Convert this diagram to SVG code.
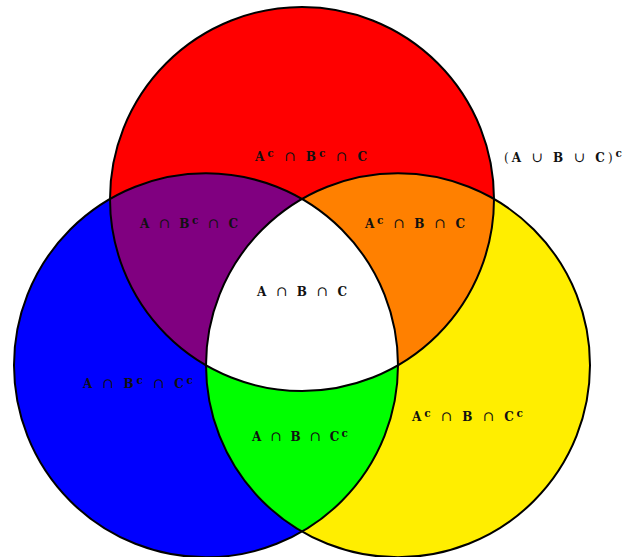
<svg xmlns="http://www.w3.org/2000/svg" width="634" height="557" viewBox="0 0 634 557">
<style>
.o{fill:none;stroke:#000;stroke-width:2}
.t{font-family:"DejaVu Serif","Liberation Serif",serif;font-weight:bold;font-size:12px;fill:#111}
.s{font-size:10.5px}
.u{font-size:14px;font-weight:normal}
.n{font-weight:normal}
</style>
<rect width="634" height="557" fill="#fff"/>
<g id="setC">
<circle cx="302" cy="199" r="192" fill="#ff0000"/>
</g>
<g id="setA">
<circle cx="206" cy="365.28" r="192" fill="#0000ff"/>
</g>
<g id="setB">
<circle cx="398" cy="365.28" r="192" fill="#ffee00"/>
</g>
<g id="AnotBC">
<path d="M110,199 A192,192 0 0 1 302,199 A192,192 0 0 0 206,365.28 A192,192 0 0 1 110,199 Z" fill="#800080"/>
</g>
<g id="notABC">
<path d="M302,199 A192,192 0 0 1 494,199 A192,192 0 0 1 398,365.28 A192,192 0 0 0 302,199 Z" fill="#ff8000"/>
</g>
<g id="ABnotC">
<path d="M206,365.28 A192,192 0 0 0 398,365.28 A192,192 0 0 1 302,531.56 A192,192 0 0 1 206,365.28 Z" fill="#00ff00"/>
</g>
<g id="ABC">
<path d="M302,199 A192,192 0 0 1 398,365.28 A192,192 0 0 1 206,365.28 A192,192 0 0 1 302,199 Z" fill="#ffffff"/>
</g>
<g id="outlines">
<circle class="o" cx="302" cy="199" r="192"/>
<circle class="o" cx="206" cy="365.28" r="192"/>
<circle class="o" cx="398" cy="365.28" r="192"/>
</g>
<g id="labels">
<text class="t" x="255" y="161" textLength="112" lengthAdjust="spacing">A<tspan class="s" dy="-4">c</tspan><tspan dy="4"> </tspan><tspan class="u">∩</tspan> B<tspan class="s" dy="-4">c</tspan><tspan dy="4"> </tspan><tspan class="u">∩</tspan> C</text>
<text class="t" x="504" y="162" textLength="118" lengthAdjust="spacing"><tspan class="n">(</tspan>A <tspan class="u">∪</tspan> B <tspan class="u">∪</tspan> C<tspan class="n">)</tspan><tspan class="s" dy="-5">c</tspan></text>
<text class="t" x="140" y="228" textLength="98" lengthAdjust="spacing">A <tspan class="u">∩</tspan> B<tspan class="s" dy="-4">c</tspan><tspan dy="4"> </tspan><tspan class="u">∩</tspan> C</text>
<text class="t" x="365" y="228" textLength="100" lengthAdjust="spacing">A<tspan class="s" dy="-4">c</tspan><tspan dy="4"> </tspan><tspan class="u">∩</tspan> B <tspan class="u">∩</tspan> C</text>
<text class="t" x="257" y="296" textLength="90" lengthAdjust="spacing">A <tspan class="u">∩</tspan> B <tspan class="u">∩</tspan> C</text>
<text class="t" x="83" y="388" textLength="110" lengthAdjust="spacing">A <tspan class="u">∩</tspan> B<tspan class="s" dy="-4">c</tspan><tspan dy="4"> </tspan><tspan class="u">∩</tspan> C<tspan class="s" dy="-4">c</tspan></text>
<text class="t" x="252" y="441" textLength="96" lengthAdjust="spacing">A <tspan class="u">∩</tspan> B <tspan class="u">∩</tspan> C<tspan class="s" dy="-4">c</tspan></text>
<text class="t" x="412" y="421" textLength="111" lengthAdjust="spacing">A<tspan class="s" dy="-4">c</tspan><tspan dy="4"> </tspan><tspan class="u">∩</tspan> B <tspan class="u">∩</tspan> C<tspan class="s" dy="-4">c</tspan></text>
</g>
</svg>
